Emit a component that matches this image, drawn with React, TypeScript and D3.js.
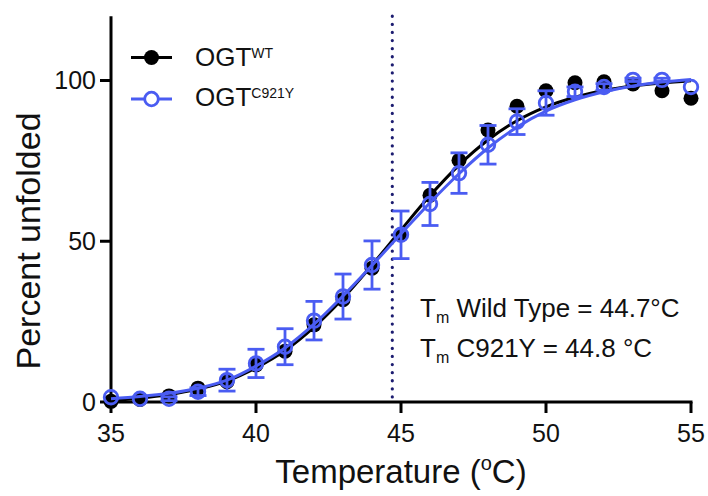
import React from "react";
import * as d3 from "d3";

const temps = [35,36,37,38,39,40,41,42,43,44,45,46,47,48,49,50,51,52,53,54,55];
const wtValues = [0.2,0.8,1.9,4.3,6.3,11.5,15.8,24,31.8,41.6,52,64.3,75.2,84.6,92,96.8,99.3,99.6,98.9,96.8,94.5];
const mutValues = [1.5,1.0,1.0,3.2,6.8,12,17.2,25.3,32.8,42.6,52,61.6,71.2,80,87.2,93,96.5,98,100.2,100.2,98];
const mutErrors = [0,0,0.6,1.2,3.4,4.4,5.6,6,7,7.5,7.4,6.7,6.3,6,4,3.8,1.5,1,0.5,0.5,0];
const wtFit = [0.5,1.2,2.3,4.0,6.5,10.6,16,23.3,32.3,42.6,53.5,64.2,73.7,81.5,87.5,91.8,94.8,96.9,98.3,99.2,99.9];
const mutFit = [1.0,1.7,2.7,4.3,6.8,11.2,16.8,24.2,33,42.5,52.3,62,71,79,85.5,90.5,94,96.5,98.3,99.5,100.3];
const xTicks = [35,40,45,50,55];
const yTicks = [0,50,100];
const tmWT = 44.7;
const BLUE = "#4a5cf2";
const FONT = "'Liberation Sans', Arial, sans-serif";

export default function App() {
  const x = d3.scaleLinear().domain([35, 55]).range([111, 691]);
  const y = d3.scaleLinear().domain([0, 120]).range([402, 16.2]);
  const line = d3.line<number>().x((_, i) => x(temps[i])).y((d) => y(d)).curve(d3.curveMonotoneX);

  return (
    <svg width={708} height={496} style={{ position: "absolute", left: 0, top: 0, background: "#fff" }} fontFamily={FONT}>
      {/* dotted Tm line */}
      <line x1={x(tmWT)} x2={x(tmWT)} y1={y(120)} y2={y(0)} stroke="#1c1c70" strokeWidth={3.2} strokeDasharray="0.1 8" strokeLinecap="round" />

      {/* axes */}
      <line x1={x(35)} x2={x(55) + 1.5} y1={y(0)} y2={y(0)} stroke="#000" strokeWidth={3} />
      <line x1={x(35)} x2={x(35)} y1={y(120)} y2={y(0) + 1.5} stroke="#000" strokeWidth={3} />
      {xTicks.map((t) => (
        <g key={"xt" + t}>
          <line x1={x(t)} x2={x(t)} y1={y(0)} y2={y(0) + 11} stroke="#000" strokeWidth={3} />
          <text x={x(t)} y={442} textAnchor="middle" fontSize={25} fill="#111">{t}</text>
        </g>
      ))}
      {yTicks.map((t) => (
        <g key={"yt" + t}>
          <line x1={x(35) - 11} x2={x(35)} y1={y(t)} y2={y(t)} stroke="#000" strokeWidth={3} />
          <text x={96} y={y(t) + 8.5} textAnchor="end" fontSize={25} fill="#111">{t}</text>
        </g>
      ))}
      <text x={401} y={483} textAnchor="middle" fontSize={33} fill="#111">
        Temperature (<tspan fontSize={20} dy={-13}>o</tspan><tspan dy={13}>C)</tspan>
      </text>
      <text transform="translate(40,241) rotate(-90)" textAnchor="middle" fontSize={34} fill="#111">Percent unfolded</text>

      {/* WT series */}
      <path d={line(wtFit) || ""} fill="none" stroke="#000" strokeWidth={3} />
      {wtValues.map((v, i) => (
        <circle key={"wt" + i} cx={x(temps[i])} cy={y(v)} r={7.5} fill="#000" />
      ))}

      {/* C921Y series */}
      {mutValues.map((v, i) => {
        const e = mutErrors[i];
        if (e <= 0) return null;
        const cx = x(temps[i]);
        return (
          <g key={"err" + i} stroke={BLUE} strokeWidth={2.8}>
            <line x1={cx} x2={cx} y1={y(v + e)} y2={y(v - e)} />
            <line x1={cx - 8.5} x2={cx + 8.5} y1={y(v + e)} y2={y(v + e)} />
            <line x1={cx - 8.5} x2={cx + 8.5} y1={y(v - e)} y2={y(v - e)} />
          </g>
        );
      })}
      <path d={line(mutFit) || ""} fill="none" stroke={BLUE} strokeWidth={3} />
      {mutValues.map((v, i) => (
        <circle key={"mut" + i} cx={x(temps[i])} cy={y(v)} r={6.8} fill="none" stroke={BLUE} strokeWidth={2.8} />
      ))}

      {/* legend */}
      <line x1={131} x2={172} y1={57.5} y2={57.5} stroke="#000" strokeWidth={3} />
      <circle cx={151.5} cy={57.5} r={7.5} fill="#000" />
      <text x={195} y={65.5} fontSize={26} fill="#111">OGT<tspan fontSize={14} dy={-8}>WT</tspan></text>
      <line x1={131} x2={172} y1={99} y2={99} stroke={BLUE} strokeWidth={3} />
      <circle cx={151.5} cy={99} r={6.8} fill="#fff" stroke={BLUE} strokeWidth={2.8} />
      <text x={195} y={105.5} fontSize={26} fill="#111">OGT<tspan fontSize={14} dy={-8}>C921Y</tspan></text>

      {/* annotation */}
      <text x={420} y={317} fontSize={26} fill="#111">T<tspan fontSize={16} dy={6}>m</tspan><tspan dy={-6}> Wild Type = 44.7°C</tspan></text>
      <text x={420} y={357} fontSize={26} fill="#111">T<tspan fontSize={16} dy={6}>m</tspan><tspan dy={-6}> C921Y = 44.8 °C</tspan></text>
    </svg>
  );
}
